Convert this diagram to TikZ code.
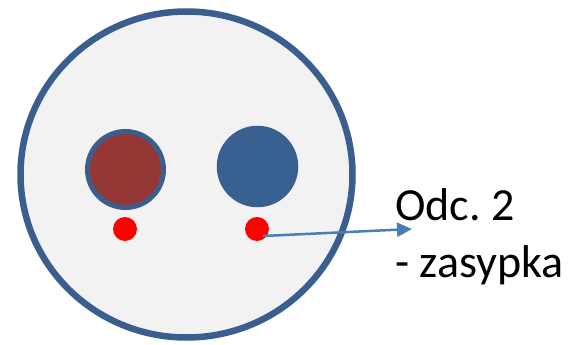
\documentclass[tikz,border=0pt]{standalone}
\usepackage{fontspec}
\setmainfont{Carlito}
\usetikzlibrary{arrows.meta,shapes.geometric}
\definecolor{ringblue}{HTML}{3A5F8E}
\definecolor{bggrey}{HTML}{F2F2F2}
\definecolor{pipebrown}{HTML}{953735}
\definecolor{pipeblue}{HTML}{386090}
\definecolor{arrowblue}{HTML}{4A7EBB}
\definecolor{dotred}{HTML}{FF0000}
\tikzset{
  outer/.style={ellipse, draw=ringblue, fill=bggrey, line width=6.5pt, inner sep=0pt},
  pipe/.style={circle, inner sep=0pt},
  dotmark/.style={circle, fill=dotred, inner sep=0pt, minimum size=24pt},
  label/.style={font=\fontsize{46}{55}\selectfont\frenchspacing, anchor=base west, inner sep=0pt},
  pointer/.style={draw=arrowblue, line width=2.5pt, -{Triangle[length=15pt,width=14pt]}}
}
\begin{document}
\begin{tikzpicture}[x=1pt,y=-1pt]
\useasboundingbox (0,0) rectangle (574,345);
\node[outer, minimum width=332pt, minimum height=326pt] (big) at (186.5,174.5) {};
\node[pipe, fill=pipebrown, draw=ringblue, line width=5pt, minimum size=76pt] (hot) at (125.5,169.5) {};
\node[pipe, fill=pipeblue, draw=ringblue, line width=1.5pt, minimum size=80pt] (cold) at (257.5,166.5) {};
\node[dotmark] (ldot) at (125,229) {};
\node[dotmark] (rdot) at (257,229) {};
\coordinate (astart) at (263,236);
\coordinate (aend) at (412,229);
\draw[pointer] (astart) -- (aend);
\node[label] (odc) at (395,220) {Odc. 2};
\node[label] (zas) at (395,277) {- zasypka};
\end{tikzpicture}
\end{document}
